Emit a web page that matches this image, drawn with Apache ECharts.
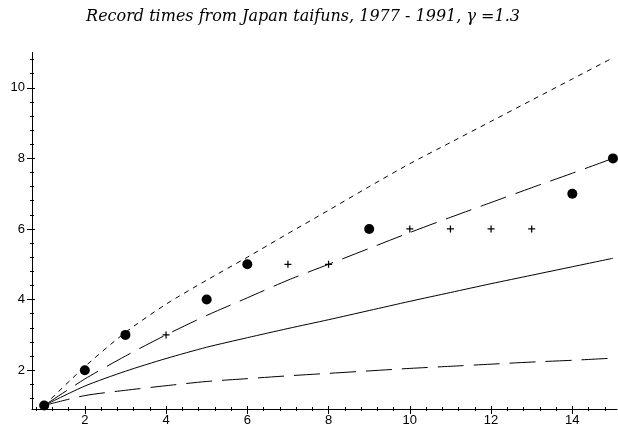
<!DOCTYPE html>
<html>
<head>
<meta charset="utf-8">
<script src="https://cdn.jsdelivr.net/npm/echarts@6/dist/echarts.min.js"></script>
<style>
  html, body { margin: 0; padding: 0; background: #fff; }
  #chart { width: 618px; height: 435px; }
</style>
</head>
<body>
<div id="chart"></div>
<script>
// record times, taifuns 1977 - 1991
const years = [1, 2, 3, 4, 5, 6, 7, 8, 9, 10, 11, 12, 13, 14, 15]
const upperBound = [1, 2.1, 3.07, 3.87, 4.55, 5.2, 5.87, 6.53, 7.2, 7.85, 8.45, 9.05, 9.65, 10.25, 10.85]
const upperMid = [1, 1.75, 2.4, 3.0, 3.55, 4.05, 4.55, 5.0, 5.45, 5.9, 6.33, 6.75, 7.17, 7.58, 8.0]
const expected = [1, 1.55, 1.97, 2.33, 2.65, 2.92, 3.18, 3.43, 3.69, 3.95, 4.2, 4.45, 4.69, 4.93, 5.17]
const lowerBound = [1, 1.28, 1.43, 1.56, 1.68, 1.76, 1.84, 1.91, 1.98, 2.05, 2.11, 2.17, 2.23, 2.28, 2.34]

const recordX = [1, 2, 3, 5, 6, 9, 14, 15]
const recordY = [1, 2, 3, 4, 5, 6, 7, 8]
const otherX = [4, 7, 8, 10, 11, 12, 13]
const otherY = [3, 5, 5, 6, 6, 6, 6]

const xTicks = [2, 4, 6, 8, 10, 12, 14]
const yTicks = [2, 4, 6, 8, 10]

const X_MIN = 0.7, X_MAX = 15.1
const Y_MIN = 0.9, Y_MAX = 11

// minor ticks every 0.4, like the original plot
const minorBetween = (from, to, majors) => {
  const out = []
  for (let v = from; v <= to + 1e-9; v += 0.4) {
    const r = Math.round(v * 10) / 10
    if (!majors.includes(r)) out.push(r)
  }
  return out
}
const xMinor = minorBetween(0.8, X_MAX, xTicks)
const yMinor = minorBetween(1.2, Y_MAX, yTicks)

const font = { fontFamily: 'Liberation Sans', fontSize: 13, color: '#000' }

// one axis layer: main layer draws line + labels, the rest only ticks
const axisLayer = (kind, ticks, len, inside, main) => {
  const isX = kind === 'x'
  return {
    type: 'value',
    position: isX ? 'bottom' : 'left',
    min: isX ? X_MIN : Y_MIN,
    max: isX ? X_MAX : Y_MAX,
    splitLine: { show: false },
    axisLine: { show: main, onZero: false, lineStyle: { color: '#000', width: 1 } },
    axisTick: {
      show: true,
      inside: inside,
      length: len,
      customValues: ticks,
      lineStyle: { color: '#000', width: 1 },
    },
    axisLabel: main
      ? { show: true, customValues: ticks, margin: isX ? 5 : 7, ...font }
      : { show: false },
  }
}

const toPairs = (xs, ys) => xs.map((x, i) => [x, ys[i]])

const curve = (data, type) => ({
  type: 'line',
  data: toPairs(years, data),
  showSymbol: false,
  smooth: 0.25,
  lineStyle: { color: '#000', width: 1, type: type },
  z: 2,
})

const chart = echarts.init(document.getElementById('chart'), null, { renderer: 'canvas' })
chart.setOption({
  animation: false,
  backgroundColor: '#fff',
  title: {
    text: 'Record times from Japan taifuns, 1977 - 1991, γ =1.3',
    left: 298,
    textAlign: 'center',
    top: 4,
    textStyle: {
      fontFamily: 'DejaVu Serif',
      fontStyle: 'italic',
      fontWeight: 'normal',
      fontSize: 16,
      color: '#000',
    },
  },
  grid: { left: 32, right: 1, top: 52.5, bottom: 26, containLabel: false },
  xAxis: [
    axisLayer('x', xTicks, 5, false, true),
    axisLayer('x', xTicks, 3, true, false),
    axisLayer('x', xMinor, 2, false, false),
    axisLayer('x', xMinor, 2, true, false),
  ],
  yAxis: [
    axisLayer('y', yTicks, 5, false, true),
    axisLayer('y', yTicks, 3, true, false),
    axisLayer('y', yMinor, 2, false, false),
    axisLayer('y', yMinor, 2, true, false),
  ],
  series: [
    curve(upperBound, [5, 5]),
    curve(upperMid, [27, 10]),
    curve(expected, 'solid'),
    curve(lowerBound, [26, 10]),
    {
      type: 'scatter',
      data: toPairs(recordX, recordY),
      symbol: 'circle',
      symbolSize: 10,
      itemStyle: { color: '#000', opacity: 1 },
      z: 3,
    },
    {
      type: 'scatter',
      data: toPairs(otherX, otherY),
      symbol: 'path://M3,0h1.3v7.3h-1.3zM0,3h7.3v1.3h-7.3z',
      symbolSize: 7,
      itemStyle: { color: '#000', opacity: 1 },
      z: 3,
    },
  ],
})
</script>
</body>
</html>
